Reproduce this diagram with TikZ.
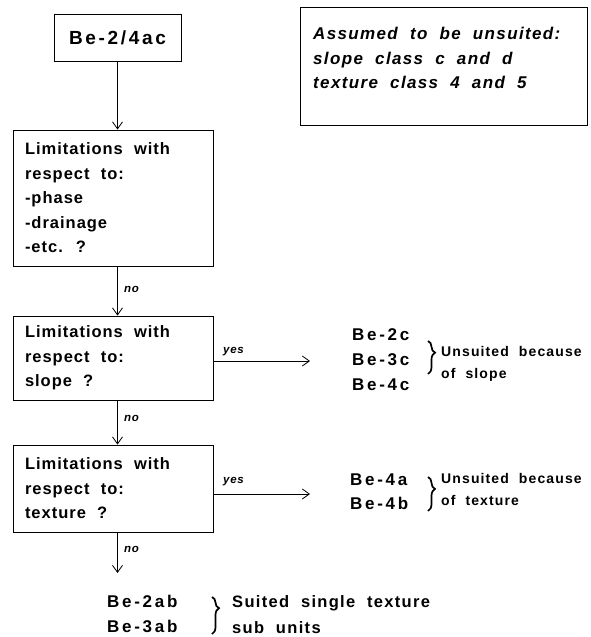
\documentclass[tikz,border=0pt]{standalone}
\usepackage{fontspec}
\newfontfamily\pf{Liberation Sans}[LetterSpace=6,WordSpace=2]
\usetikzlibrary{arrows.meta,decorations.pathreplacing}
\newcommand\boxtext[1]{\parbox{176pt}{#1}}
\begin{document}
\begin{tikzpicture}[x=1pt,y=-1pt,
  box/.style={draw, line width=0.9pt, inner sep=0pt,
    font=\pf\bfseries\fontsize{16.5}{24.5}\selectfont},
  arr/.style={-{Straight Barb[length=7pt,width=10pt]}, line width=0.8pt},
  lab/.style={font=\pf\bfseries\itshape\fontsize{11.5}{13}\selectfont, inner sep=0pt, anchor=west},
  txt/.style={font=\pf\bfseries\fontsize{17}{25}\selectfont\addfontfeature{LetterSpace=16}, inner sep=0pt, anchor=west, align=left},
  small/.style={font=\pf\bfseries\fontsize{14}{22}\selectfont\addfontfeature{LetterSpace=8}, inner sep=0pt, anchor=west, align=left},
  mybrace/.style={decorate, decoration={brace, amplitude=7pt, aspect=#1}, line width=1.7pt},
  mybrace/.default=0.5
]
\useasboundingbox (0,0) rectangle (590,637);

% note box
\node[draw, line width=0.9pt, minimum width=287, minimum height=118, anchor=north west, inner sep=0pt] (note) at (300,7) {};
\node[anchor=north west, align=left, inner sep=0pt,
  font=\pf\bfseries\itshape\fontsize{17}{24.5}\selectfont\addfontfeature{LetterSpace=8}] (notetext) at ([xshift=13, yshift=-20]note.north west)
  {Assumed to be unsuited:\\slope class c and d\\texture class 4 and 5};

% flow boxes
\node[box, minimum width=127, minimum height=47, font=\pf\bfseries\fontsize{19}{22}\selectfont\addfontfeature{LetterSpace=14}] (b1) at (117.5,37.5) {Be-2/4ac};
\node[box, minimum width=200, minimum height=136] (b2) at (113,198)
  {\boxtext{Limitations with\\respect to:\\-phase\\-drainage\\-etc. ?}};
\node[box, minimum width=200, minimum height=84] (b3) at (113,358)
  {\boxtext{Limitations with\\respect to:\\slope ?}};
\node[box, minimum width=200, minimum height=87] (b4) at (113,488.5)
  {\boxtext{Limitations with\\respect to:\\texture ?}};

% vertical arrows
\draw[arr] (b1.south) -- (b1.south |- b2.north);
\draw[arr] (b2.south -| b1.south) -- (b3.north -| b1.south);
\draw[arr] (b3.south -| b1.south) -- (b4.north -| b1.south);
\coordinate (end) at (117.5,573);
\draw[arr] (b4.south -| end) -- (end);
\node[lab] (no1) at (124,289) {no};
\node[lab] (no2) at (124,418) {no};
\node[lab] (no3) at (124,549) {no};

% yes arrows
\coordinate (t1) at (310,361);
\coordinate (t2) at (310,494);
\draw[arr] (b3.east |- t1) -- (t1);
\draw[arr] (b4.east |- t2) -- (t2);
\node[lab] (yes1) at (223,352) {yes};
\node[lab] (yes2) at (223,482) {yes};

% slope group
\node[txt] (g1) at (352,360) {Be-2c\\Be-3c\\Be-4c};
\draw[mybrace=0.35] (428,341) -- (428,374);
\node[small] (u1) at (441,364) {Unsuited because\\of slope};

% texture group
\node[txt, font=\pf\bfseries\fontsize{17}{24}\selectfont\addfontfeature{LetterSpace=16}] (g2) at (350,492) {Be-4a\\Be-4b};
\draw[mybrace=0.35] (428,477) -- (428,511);
\node[small] (u2) at (441,489) {Unsuited because\\of texture};

% suited group
\node[txt] (g3) at (107,614) {Be-2ab\\Be-3ab};
\draw[mybrace=0.3] (212,597) -- (212,634);
\node[anchor=west, align=left, inner sep=0pt, font=\pf\bfseries\fontsize{16.5}{26}\selectfont\addfontfeature{LetterSpace=8}] (u3) at (232,615) {Suited single texture\\sub units};
\end{tikzpicture}
\end{document}
